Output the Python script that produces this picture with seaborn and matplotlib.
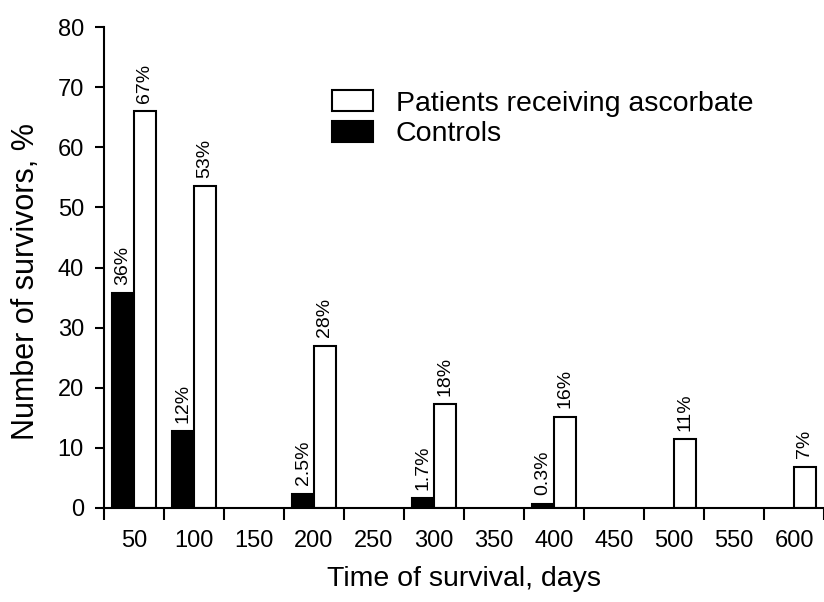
import pandas as pd
import matplotlib.pyplot as plt
import seaborn as sns

# Survival data (days -> % surviving)
days = ['50', '100', '150', '200', '250', '300', '350', '400', '450', '500', '550', '600']

control_days = ['50', '100', '200', '300', '400']
control_values = [35.7, 12.8, 2.4, 1.6, 0.7]
control_labels = ['36%', '12%', '2.5%', '1.7%', '0.3%']

patient_days = ['50', '100', '200', '300', '400', '500', '600']
patient_values = [66.0, 53.5, 27.0, 17.3, 15.2, 11.4, 6.9]
patient_labels = ['67%', '53%', '28%', '18%', '16%', '11%', '7%']

groups = ['Controls', 'Patients receiving ascorbate']

df = pd.concat([
    pd.DataFrame({'day': control_days, 'value': control_values, 'group': groups[0]}),
    pd.DataFrame({'day': patient_days, 'value': patient_values, 'group': groups[1]}),
])

sns.set_style('ticks', {'axes.edgecolor': 'black', 'text.color': 'black',
                        'axes.labelcolor': 'black', 'xtick.color': 'black',
                        'ytick.color': 'black'})
plt.rcParams['font.family'] = ['Liberation Sans', 'DejaVu Sans']

fig = plt.figure(figsize=(8.24, 6.02), dpi=100)
ax = fig.add_axes([104 / 824, 1 - 508 / 602, 720 / 824, 481 / 602])

sns.barplot(data=df, x='day', y='value', hue='group', order=days, hue_order=groups,
            palette={groups[0]: 'black', groups[1]: 'white'},
            edgecolor='black', linewidth=1.5, width=0.72, gap=0, ax=ax)

# Percent labels above bars
for container, labels in zip(ax.containers, [control_labels, patient_labels]):
    ax.bar_label(container, labels=labels, rotation=90, padding=6, fontsize=14,
                 color='black')

ax.set_xlim(-0.5, 11.35)
ax.set_ylim(0, 80)
ax.set_yticks(range(0, 81, 10))

# tick marks between categories, labels at category centres
ax.set_xticks([i + 0.5 for i in range(-1, 12)], minor=True)
ax.tick_params(axis='x', which='major', length=0, pad=16, labelsize=17)
ax.tick_params(axis='x', which='minor', length=8.5, width=1.5, direction='out')
ax.tick_params(axis='y', length=6.5, width=1.5, pad=8, labelsize=17)

ax.set_xlabel('Time of survival, days', fontsize=20.5, labelpad=10)
ax.set_ylabel('Number of survivors, %', fontsize=22)
ax.yaxis.set_label_coords(-0.087, 0.47)

sns.despine(ax=ax)
for side in ['left', 'bottom']:
    ax.spines[side].set_linewidth(1.5)

handles, labels = ax.get_legend_handles_labels()
ax.legend(handles[::-1], labels[::-1], loc='upper left',
          bbox_to_anchor=(332 / 824, 1 - 90 / 602), bbox_transform=fig.transFigure,
          frameon=False, fontsize=20.5, borderpad=0, borderaxespad=0,
          handlelength=1.44, handleheight=0.77, handletextpad=0.8, labelspacing=0.14)

plt.savefig('out.png', dpi=100)
